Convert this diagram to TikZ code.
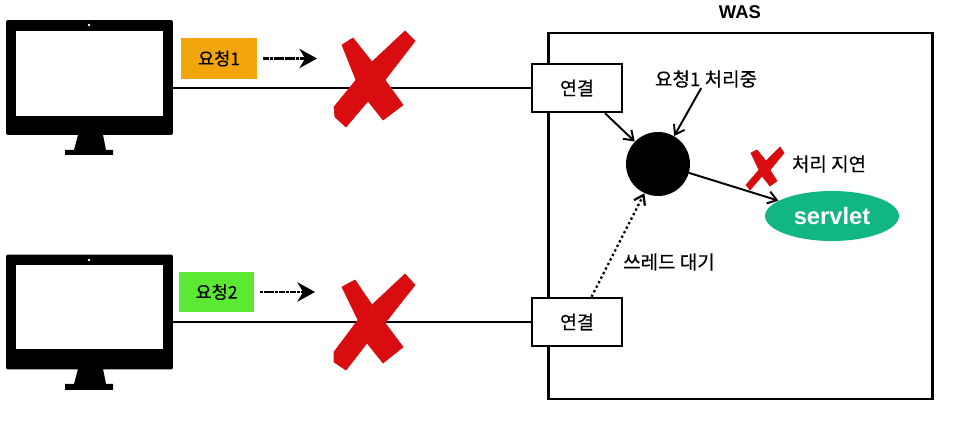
\documentclass[tikz,border=0pt]{standalone}
\usepackage{fontspec}
\setmainfont{Liberation Sans}
\newfontfamily\korfont[FakeBold=0.25]{Noto Sans CJK KR}
\usetikzlibrary{arrows.meta,shapes.geometric}
\definecolor{reqorange}{RGB}{242,166,12}
\definecolor{reqgreen}{RGB}{92,233,52}
\definecolor{markred}{RGB}{217,12,16}
\definecolor{servletgreen}{RGB}{18,181,132}
\tikzset{
  pcbody/.style={fill=black,rounded corners=1.2pt,minimum width=3.34cm,minimum height=2.3cm,inner sep=0pt},
  reqlabel/.style={minimum width=1.52cm,minimum height=.82cm,inner sep=0pt,font=\korfont\fontsize{10}{12}\selectfont},
  connbox/.style={draw,line width=1.4pt,fill=white,minimum width=1.8cm,minimum height=.96cm,inner sep=0pt,font=\korfont\fontsize{10.5}{12}\selectfont},
  kortext/.style={inner sep=0pt,font=\korfont\fontsize{10.8}{12}\selectfont},
  reqarrow/.style={line width=1.5pt,dash pattern=on 1.8pt off .3pt,-{Stealth[length=10pt,width=11pt]},shorten <=3pt},
  flowarrow/.style={line width=1.1pt,-{Straight Barb[length=5pt,width=7pt]}},
  markcross/.style={fill=markred,draw=markred,line width=.4pt,line join=round}
}
\begin{document}
\begin{tikzpicture}[x=.02cm,y=-.02cm]
  \useasboundingbox (0,0) rectangle (953,428);
  % was frame
  \draw[line width=1.7pt] (548,33) rectangle (932,399);
  \node[font=\bfseries\fontsize{10.5}{12}\selectfont,inner sep=0pt] (wastitle) at (740,12) {WAS};
  % monitors
  \node[pcbody] (pc1) at (89.5,77.5) {};
  \fill[white] (16,31) rectangle (163,116);
  \fill[white] (89,25) circle (1.3);
  \fill (78,135)--(103,135)--(106,150)--(113,150)--(113,155)--(65,155)--(65,150)--(74,150)--cycle;
  \node[pcbody] (pc2) at (89.5,312) {};
  \fill[white] (16,265) rectangle (163,349);
  \fill[white] (89,260) circle (1.3);
  \fill (78,369)--(103,369)--(106,384)--(113,384)--(113,390)--(65,390)--(65,384)--(74,384)--cycle;
  % connections
  \node[connbox] (conn1) at (577,88) {연결};
  \node[connbox] (conn2) at (577,322) {연결};
  \draw[line width=1.1pt] (conn1.west -| pc1.east) -- (conn1.west);
  \draw[line width=1.1pt] (conn2.west -| pc2.east) -- (conn2.west);
  % requests
  \node[reqlabel,fill=reqorange] (req1) at (219,58.5) {요청1};
  \node[reqlabel,fill=reqgreen] (req2) at (216.5,292) {요청2};
  \coordinate (tip1) at (317,58.5);
  \coordinate (tip2) at (315,292);
  \draw[reqarrow] (req1.east) -- (tip1);
  \draw[reqarrow] (req2.east) -- (tip2);
  % crosses
  \filldraw[markcross] (342,45)--(353,38)--(372,62)--(405,31)--(415,41)--(385,80)--(403,105)--(383,120)--(368,101)--(346,127)--(335,117)--(334,107)--(356,80)--cycle;
  \filldraw[markcross] (342,287)--(355,280)--(372,305)--(405,274)--(415,285)--(385,323)--(403,347)--(383,363)--(367,343)--(346,370)--(334,362)--(334,352)--(358,320)--cycle;
  \filldraw[markcross] (751,153)--(757,150)--(766,161)--(780,147)--(784,153)--(770,170)--(777,181)--(770,186)--(762,176)--(750,190)--(746,185)--(759,170)--cycle;
  % thread and servlet
  \node[circle,fill=black,minimum size=1.28cm,inner sep=0pt] (thread) at (658,164) {};
  \node[ellipse,fill=servletgreen,minimum width=2.68cm,minimum height=1cm,inner sep=0pt,text=white,font=\bfseries\fontsize{13.5}{15}\selectfont] (servlet) at (832,216) {servlet};
  \node[kortext] (busy) at (706,79) {요청1 처리중};
  \node[kortext] (delay) at (829,164) {처리 지연};
  \node[kortext] (waiting) at (669,262) {쓰레드 대기};
  \draw[flowarrow] (conn1.-42) -- (thread.136);
  \draw[flowarrow] (busy.-118) -- (thread.60);
  \draw[flowarrow] (thread.-16) -- (servlet.164);
  \draw[flowarrow,line width=1.3pt,dash pattern=on 1.3pt off 1.6pt] (conn2.60) -- (thread.-115);
\end{tikzpicture}
\end{document}
